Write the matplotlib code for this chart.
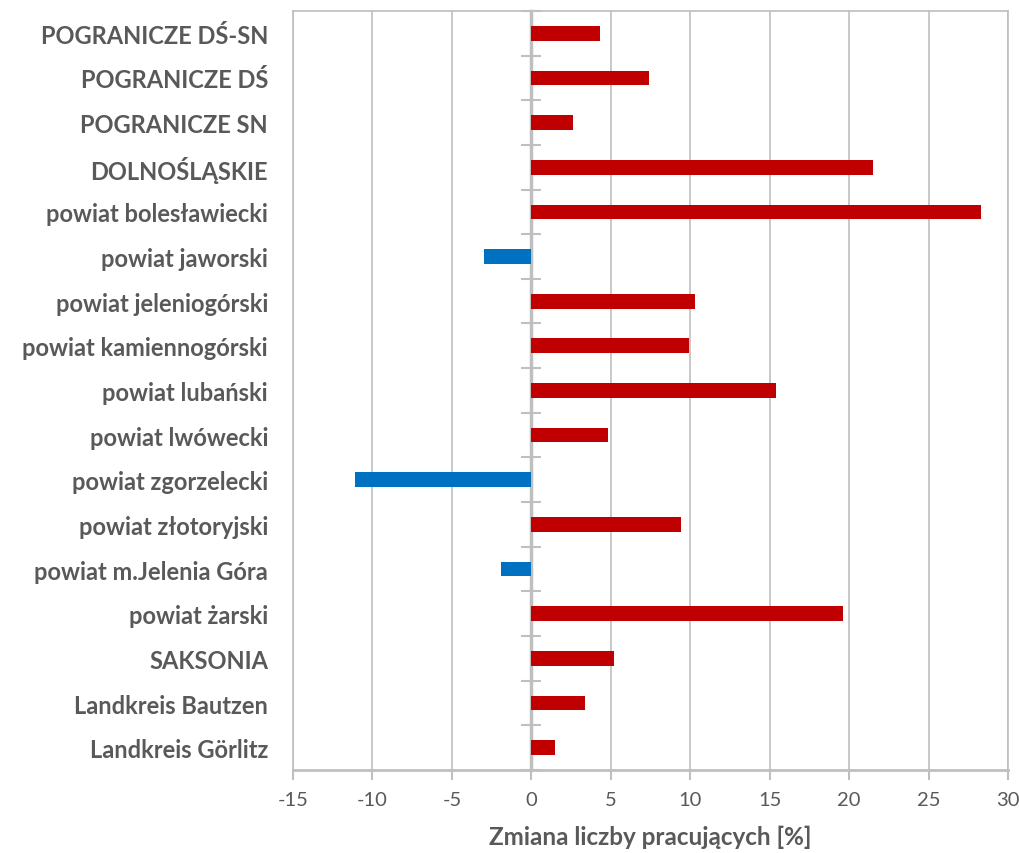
import numpy as np
import matplotlib.pyplot as plt

# dane
categories = ["POGRANICZE DŚ-SN", "POGRANICZE DŚ", "POGRANICZE SN", "DOLNOŚLĄSKIE",
              "powiat bolesławiecki", "powiat jaworski", "powiat jeleniogórski",
              "powiat kamiennogórski", "powiat lubański", "powiat lwówecki",
              "powiat zgorzelecki", "powiat złotoryjski", "powiat m.Jelenia Góra",
              "powiat żarski", "SAKSONIA", "Landkreis Bautzen", "Landkreis Görlitz"]
values = [4.3, 7.4, 2.6, 21.5, 28.3, -3.0, 10.3, 9.9, 15.4, 4.8,
          -11.1, 9.4, -1.9, 19.6, 5.2, 3.4, 1.5]
xticks = [-15, -10, -5, 0, 5, 10, 15, 20, 25, 30]

grey = "#595959"
line = "#BFBFBF"
plt.rcParams['font.family'] = ['Lato', 'DejaVu Sans']

fig = plt.figure(figsize=(10.2, 8.54), dpi=100)
ax = fig.add_axes([0.2873, 0.0972, 0.7009, 0.8888])

y = np.arange(len(categories))
colors = ["#C00000" if v >= 0 else "#0070C0" for v in values]
ax.barh(y, values, height=0.33, color=colors, zorder=3)

ax.set_xlim(-15, 30)
ax.set_ylim(len(categories) - 0.5, -0.5)
ax.set_xticks(xticks)
ax.set_xticklabels([str(t) for t in xticks], fontsize=14.5, color=grey)
ax.set_yticks(y)
ax.set_yticklabels(categories, fontsize=17, fontweight='bold', color=grey)
ax.tick_params(axis='y', length=0, pad=18)
ax.tick_params(axis='x', direction='out', length=7, color=line, width=1.5, pad=8)
ax.grid(axis='x', color=line, linewidth=1.2, zorder=0)

for s in ax.spines.values():
    s.set_color(line)
    s.set_linewidth(1.2)
ax.spines['bottom'].set_linewidth(2)

# oś pionowa w zerze ze znacznikami kategorii
sec = ax.secondary_yaxis(15 / 45)
sec.spines['left'].set_color(line)
sec.spines['left'].set_linewidth(2.5)
sec.set_yticks([])
sec.set_yticks(np.arange(-0.5, len(categories)), minor=True)
sec.tick_params(which='minor', direction='inout', length=14, width=1.5, color=line)

ax.set_xlabel("Zmiana liczby pracujących [%]", fontsize=17.5, fontweight='bold',
              color=grey, labelpad=12)

fig.savefig("out.png", dpi=100)
